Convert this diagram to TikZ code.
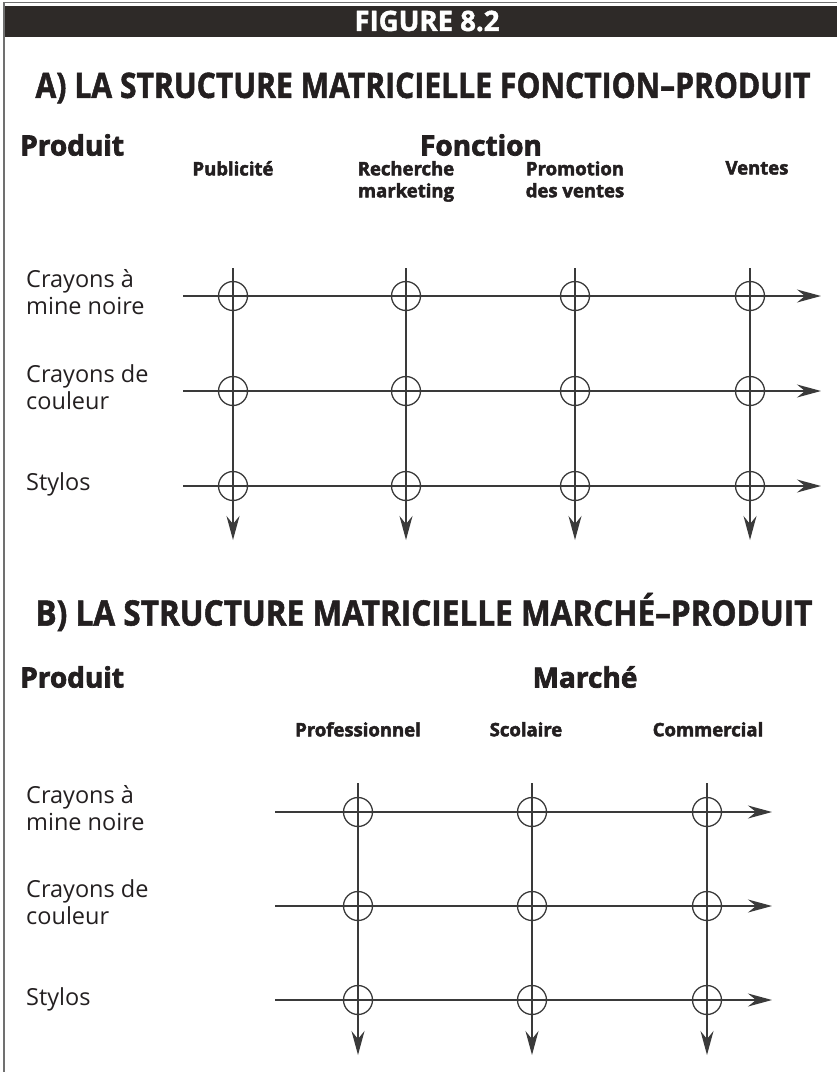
\documentclass[tikz,border=0pt]{standalone}
\usepackage{fontspec}
\usepackage{graphicx}
\usetikzlibrary{arrows.meta}
\setmainfont{Open Sans}
\newfontfamily\bodyfont{Open Sans}
\newfontfamily\headfont{Open Sans}[BoldFeatures={FakeBold=1.6}]
\newfontfamily\heavyfont{Open Sans}[BoldFeatures={FakeBold=2.6}]
\definecolor{ink}{HTML}{231F20}
\definecolor{bar}{HTML}{2E2A28}
\definecolor{framec}{HTML}{707070}
\definecolor{linec}{HTML}{3A3A3A}
\begin{document}
\begin{tikzpicture}[x=1pt,y=-1pt,
  grid/.style={draw=linec, line width=1.5pt},
  flow/.style={grid, -{Stealth[length=24pt,width=13pt,inset=8pt]}},
  xing/.style={circle, draw=linec, line width=1.3pt, minimum size=29pt, inner sep=0pt},
  rowlab/.style={anchor=west, inner sep=0pt, align=left, text=ink,
    font=\bodyfont\fontsize{23.5}{27}\selectfont},
  colhead/.style={anchor=north, inner sep=0pt, align=center, text=ink,
    font=\heavyfont\bfseries\fontsize{18.5}{22}\selectfont},
  axislab/.style={inner sep=0pt, text=ink,
    font=\heavyfont\bfseries\fontsize{28}{28}\selectfont},
  heading/.style={inner sep=0pt, text=ink}]
\useasboundingbox (0,0) rectangle (837,1072);

% frame and title bar
\draw[framec, line width=1.5pt] (4,1072) -- (4,2.5) -- (837,2.5);
\fill[bar] (5,6) rectangle (837,37);
\node[inner sep=0pt, text=white] (title) at (427,21)
  {\resizebox{145pt}{\height}{\headfont\bfseries\fontsize{28}{28}\selectfont FIGURE 8.2}};

% ---------- A) function / product matrix ----------
\node[heading] (headA) at (423,88)
  {\resizebox{775pt}{\height}{\headfont\bfseries\fontsize{35}{35}\selectfont A) LA STRUCTURE MATRICIELLE FONCTION–PRODUIT}};
\node[axislab, anchor=west] (prodA) at (20,145) {Produit};
\node[axislab] (fonc) at (481,145) {Fonction};

\node[colhead] (pub) at (233,161) {Publicité};
\node[colhead] (rech) at (406,161) {Recherche\\marketing};
\node[colhead] (promo) at (575,161) {Promotion\\des ventes};
\node[colhead] (vent) at (757,161) {Ventes};

\node[rowlab] (aCr) at (26,292) {Crayons à\\mine noire};
\node[rowlab] (aCo) at (26,387) {Crayons de\\couleur};
\node[rowlab] (aSt) at (26,484) {Stylos};

\foreach \r/\y in {1/296,2/391,3/486}
  \foreach \c/\x in {1/233,2/406,3/575,4/750}
    \node[xing] (a\r\c) at (\x,\y) {};

\foreach \r/\y in {1/296,2/391,3/486} {
  \coordinate (ars\r) at (183,\y);
  \coordinate (are\r) at (821,\y);
  \draw[flow] (ars\r) -- (a\r1.center) -- (a\r2.center) -- (a\r3.center) -- (a\r4.center) -- (are\r);
}
\foreach \c/\x in {1/233,2/406,3/575,4/750} {
  \coordinate (acs\c) at (\x,268);
  \coordinate (ace\c) at (\x,540);
  \draw[flow] (acs\c) -- (a1\c.center) -- (a2\c.center) -- (a3\c.center) -- (ace\c);
}

% ---------- B) market / product matrix ----------
\node[heading] (headB) at (424,612)
  {\resizebox{777pt}{\height}{\headfont\bfseries\fontsize{35}{35}\selectfont B) LA STRUCTURE MATRICIELLE MARCHÉ–PRODUIT}};
\node[axislab, anchor=west] (prodB) at (20,677) {Produit};
\node[axislab] (marche) at (585,677) {Marché};

\node[colhead] (pro) at (358,722) {Professionnel};
\node[colhead] (sco) at (526,722) {Scolaire};
\node[colhead] (com) at (708,722) {Commercial};

\node[rowlab] (bCr) at (26,808) {Crayons à\\mine noire};
\node[rowlab] (bCo) at (26,902) {Crayons de\\couleur};
\node[rowlab] (bSt) at (26,999) {Stylos};

\foreach \r/\y in {1/812,2/906,3/1000}
  \foreach \c/\x in {1/358,2/532,3/707}
    \node[xing] (b\r\c) at (\x,\y) {};

\foreach \r/\y in {1/812,2/906,3/1000} {
  \coordinate (brs\r) at (275,\y);
  \coordinate (bre\r) at (772,\y);
  \draw[flow] (brs\r) -- (b\r1.center) -- (b\r2.center) -- (b\r3.center) -- (bre\r);
}
\foreach \c/\x in {1/358,2/532,3/707} {
  \coordinate (bcs\c) at (\x,783);
  \coordinate (bce\c) at (\x,1055);
  \draw[flow] (bcs\c) -- (b1\c.center) -- (b2\c.center) -- (b3\c.center) -- (bce\c);
}
\end{tikzpicture}
\end{document}
